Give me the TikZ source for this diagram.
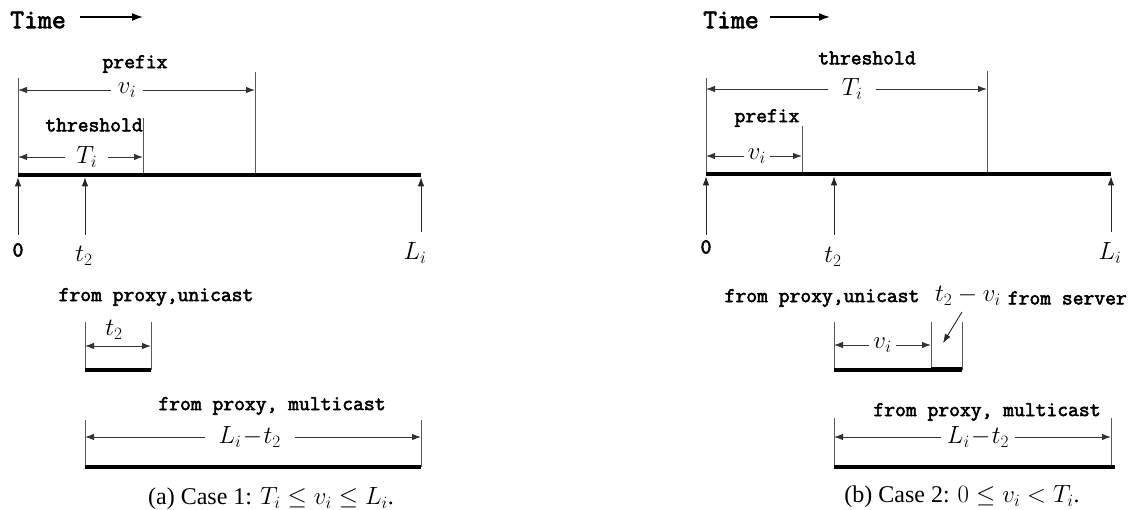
\documentclass[tikz,border=0pt]{standalone}
\usepackage{fontspec}
\setmainfont{Liberation Serif}
\newfontfamily\ttbold{Latin Modern Mono}[FakeBold=2.6]
\usetikzlibrary{arrows.meta}
\tikzset{
  tl/.style={font=\fontsize{21}{24}\selectfont\ttbold, inner sep=0pt},
  timel/.style={font=\fontsize{27}{30}\selectfont\ttbold, inner sep=0pt},
  ml/.style={font=\fontsize{24}{28}\selectfont, inner sep=0pt},
  capl/.style={font=\fontsize{24}{28}\selectfont, inner sep=0pt},
  tip/.style={>={Latex[length=9pt,width=6.5pt]}},
  dimline/.style={tip, <->, line width=0.9pt, draw=black!80},
  tickline/.style={line width=0.9pt, draw=black!65},
  axisline/.style={line width=4.5pt, draw=black},
  seg/.style={line width=3.5pt, draw=black},
  upline/.style={tip, ->, line width=0.9pt, draw=black!85},
  timearrow/.style={-{Latex[length=11pt,width=8pt]}, line width=1.6pt, draw=black},
  gap/.style={fill=white, inner ysep=0pt},
}
\begin{document}
\begin{tikzpicture}[x=1pt,y=-1pt]
\useasboundingbox (0,0) rectangle (1130,510);

% ================= panel (a) =================
\node[timel, anchor=west] (aTime) at (10,20) {Time};
\coordinate (aTa) at (80,17);
\coordinate (aTb) at (143,17);
\draw[timearrow] (aTa) -- (aTb);

\coordinate (aO) at (18,175);
\coordinate (aE) at (421,175);
\coordinate (aV) at (255,175);
\coordinate (aT) at (143,175);
\coordinate (aOtop) at (18,78);
\coordinate (aVtop) at (255,72);
\coordinate (aTtop) at (143,118);
\draw[tickline] (aOtop) -- (aO);
\draw[tickline] (aVtop) -- (aV);
\draw[tickline] (aTtop) -- (aT);
\draw[axisline] (aO) -- (aE);

\node[tl] (aPre) at (135,64) {prefix};
\coordinate (avl) at (18,90);
\coordinate (avr) at (255,90);
\draw[dimline] (avl) -- (avr) node[ml, gap, inner xsep=7pt, pos=0.46] (avlab) {$v_i$};

\node[tl] (aThr) at (94,125) {threshold};
\coordinate (aTl) at (18,157);
\coordinate (aTr) at (143,157);
\draw[dimline] (aTl) -- (aTr) node[ml, gap, inner xsep=11pt, pos=0.55] (aTlab) {$T_i$};

% up arrows
\coordinate (aU0) at (18,235);
\coordinate (aU1) at (85,235);
\coordinate (aU2) at (421,232);
\coordinate (aA1) at (85,175);
\draw[upline] (aU0) -- ([yshift=-2.3pt]aO);
\draw[upline] (aU1) -- ([yshift=-2.3pt]aA1);
\draw[upline] (aU2) -- ([yshift=-2.3pt]aE);
\node[tl] (a0lab) at (18,250) {0};
\node[ml] (at2lab) at (84,256) {$t_2$};
\node[ml] (aLlab) at (415,253) {$L_i$};

% unicast
\node[tl] (aUni) at (156,297) {from proxy,unicast};
\coordinate (auA) at (85,322);
\coordinate (auB) at (151,322);
\coordinate (auC) at (85,370);
\coordinate (auD) at (151,370);
\draw[tickline] (auA) -- (auC);
\draw[tickline] (auB) -- (auD);
\draw[seg] (auC) -- (auD);
\coordinate (audl) at (85,346);
\coordinate (audr) at (151,346);
\draw[dimline] (audl) -- (audr);
\node[ml] (aut2) at (114,330) {$t_2$};

% multicast
\node[tl] (aMul) at (272,406) {from proxy, multicast};
\coordinate (amA) at (85,420);
\coordinate (amB) at (421,420);
\coordinate (amC) at (85,467);
\coordinate (amD) at (421,467);
\draw[tickline] (amA) -- (amC);
\draw[tickline] (amB) -- (amD);
\draw[seg] (amC) -- (amD);
\coordinate (amdl) at (85,437);
\coordinate (amdr) at (421,437);
\draw[dimline] (amdl) -- (amdr) node[ml, gap, inner xsep=14pt, pos=0.49] (amlab) {$L_i\!-\!t_2$};

\node[capl] (acap) at (271,499) {(a) Case 1: $T_i\le v_i\le L_i$.};

% ================= panel (b) =================
\node[timel, anchor=west] (bTime) at (703,20) {Time};
\coordinate (bTa) at (770,17);
\coordinate (bTb) at (830,17);
\draw[timearrow] (bTa) -- (bTb);

\coordinate (bO) at (706,174);
\coordinate (bE) at (1111,174);
\coordinate (bT) at (987,174);
\coordinate (bV) at (802,174);
\coordinate (bOtop) at (706,78);
\coordinate (bTtop) at (987,71);
\coordinate (bVtop) at (802,126);
\draw[tickline] (bOtop) -- (bO);
\draw[tickline] (bTtop) -- (bT);
\draw[tickline] (bVtop) -- (bV);
\draw[axisline] (bO) -- (bE);

\node[tl] (bThr) at (867,58) {threshold};
\coordinate (bTl) at (706,89);
\coordinate (bTr) at (987,89);
\draw[dimline] (bTl) -- (bTr) node[ml, gap, inner xsep=14pt, pos=0.52] (bTlab) {$T_i$};

\node[tl] (bPre) at (767,118) {prefix};
\coordinate (bvl) at (706,156);
\coordinate (bvr) at (802,156);
\draw[dimline] (bvl) -- (bvr) node[ml, gap, inner xsep=4pt, pos=0.53] (bvlab) {$v_i$};

% up arrows
\coordinate (bU0) at (706,235);
\coordinate (bU1) at (834,235);
\coordinate (bU2) at (1111,232);
\coordinate (bA1) at (834,174);
\draw[upline] (bU0) -- ([yshift=-2.3pt]bO);
\draw[upline] (bU1) -- ([yshift=-2.3pt]bA1);
\draw[upline] (bU2) -- ([yshift=-2.3pt]bE);
\node[tl] (b0lab) at (706,247) {0};
\node[ml] (bt2lab) at (833,257) {$t_2$};
\node[ml] (bLlab) at (1110,253) {$L_i$};

% unicast + server
\node[tl] (bUni) at (822,298) {from proxy,unicast};
\node[ml] (bSrvM) at (968,296) {$t_2-v_i$};
\node[tl, anchor=east] (bSrv) at (1127,298) {from server};
\coordinate (buA) at (834,322);
\coordinate (buB) at (931,322);
\coordinate (buE) at (962,322);
\coordinate (buC) at (834,370);
\coordinate (buD) at (931,370);
\coordinate (buF) at (962,370);
\draw[tickline] (buA) -- (buC);
\draw[tickline] (buB) -- (buD);
\draw[tickline] (buE) -- (buF);
\draw[seg] (buC) -- (buD);
\draw[seg, line width=5pt] (buD) -- (buF);
\coordinate (budl) at (834,345);
\coordinate (budr) at (931,345);
\draw[dimline] (budl) -- (budr) node[ml, gap, inner xsep=4pt, pos=0.5] (bulab) {$v_i$};
\coordinate (bpA) at (962,312);
\coordinate (bpB) at (943,343);
\draw[upline] (bpA) -- (bpB);

% multicast
\node[tl] (bMul) at (987,412) {from proxy, multicast};
\coordinate (bmA) at (834,418);
\coordinate (bmB) at (1111,418);
\coordinate (bmC) at (834,467);
\coordinate (bmD) at (1115,467);
\coordinate (bmB2) at (1111,467);
\draw[tickline] (bmA) -- (bmC);
\draw[tickline] (bmB) -- (bmB2);
\draw[seg] (bmC) -- (bmD);
\coordinate (bmdl) at (834,437);
\coordinate (bmdr) at (1111,437);
\draw[dimline] (bmdl) -- (bmdr) node[ml, gap, inner xsep=6pt, pos=0.52] (bmlab) {$L_i\!-\!t_2$};

\node[capl] (bcap) at (962,497) {(b) Case 2: $0\le v_i<T_i$.};
\end{tikzpicture}
\end{document}
